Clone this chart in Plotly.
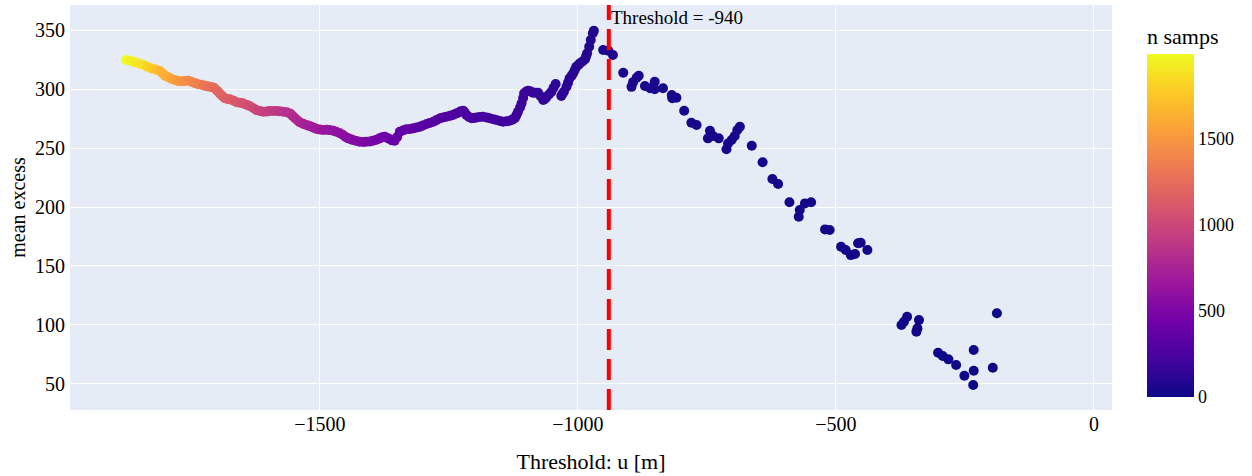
import plotly.graph_objects as go

# Threshold u [m]
threshold = [
    -1875, -1866, -1858, -1850, -1842, -1834, -1826, -1818, -1810, -1805,
    -1800, -1793, -1787, -1781, -1775, -1768, -1762, -1755, -1749, -1742,
    -1736, -1729, -1723, -1718, -1713, -1708, -1704, -1699, -1694, -1689,
    -1684, -1679, -1674, -1667, -1661, -1655, -1649, -1642, -1636, -1629,
    -1623, -1616, -1610, -1603, -1597, -1590, -1584, -1578, -1571, -1564,
    -1558, -1553, -1548, -1543, -1539, -1532, -1526, -1521, -1516, -1511,
    -1506, -1500, -1494, -1487, -1481, -1474, -1468, -1461, -1455, -1450,
    -1445, -1440, -1436, -1429, -1423, -1416, -1410, -1403, -1397, -1390,
    -1384, -1379, -1374, -1369, -1364, -1360, -1355, -1350, -1345, -1338,
    -1332, -1325, -1319, -1312, -1306, -1300, -1293, -1287, -1280, -1274,
    -1267, -1261, -1255, -1248, -1242, -1237, -1232, -1227, -1222, -1219,
    -1216, -1211, -1206, -1201, -1196, -1190, -1184, -1177, -1171, -1164,
    -1158, -1151, -1145, -1138, -1132, -1127, -1122, -1119, -1116, -1112,
    -1109, -1106, -1104, -1100, -1096, -1091, -1087, -1082, -1077, -1072,
    -1067, -1064, -1061, -1056, -1051, -1047, -1043, -1032, -1030, -1027,
    -1022, -1019, -1016, -1012, -1009, -1006, -1003, -999, -996, -991,
    -986, -984, -982, -978, -975, -971, -969,
    -951, -941, -932, -912, -896, -893, -886, -882, -870, -860,
    -851, -851, -835, -818, -817, -809, -794, -780, -770, -744,
    -748, -738, -727, -712, -709, -702, -696, -691, -686, -663,
    -642, -623, -612, -590, -572, -570, -560, -548, -521, -512,
    -490, -481, -471, -463, -457, -452, -439, -373, -368, -362,
    -339, -342, -344, -302, -293, -282, -267, -251, -233, -233,
    -234, -196, -188,
]

# Mean excess
mean_excess = [
    324.8, 323.9, 322.8, 321.8, 320.5, 319.0, 317.7, 316.8, 315.5, 313.5,
    311.5, 310.0, 308.7, 307.8, 307.0, 306.8, 307.0, 307.2, 306.4, 305.2,
    304.2, 303.8, 303.0, 302.6, 302.1, 301.6, 300.8, 298.8, 296.5, 294.3,
    292.3, 291.8, 291.4, 290.3, 288.9, 288.6, 288.0, 286.9, 285.7, 284.0,
    282.3, 281.5, 280.9, 281.0, 281.5, 281.6, 281.5, 281.3, 280.9, 280.4,
    279.5, 277.6, 275.3, 273.5, 271.9, 270.6, 269.6, 268.9, 268.2, 267.2,
    266.2, 265.8, 265.4, 265.5, 265.4, 264.8, 263.9, 262.6, 261.1, 259.4,
    258.3, 257.6, 256.9, 256.0, 255.4, 255.2, 255.4, 255.6, 256.3, 257.2,
    258.3, 259.2, 259.7, 258.6, 257.5, 256.6, 256.3, 259.5, 263.9, 265.2,
    266.0, 266.3, 266.8, 267.5, 268.2, 269.3, 270.5, 271.4, 272.4, 273.8,
    275.3, 276.0, 276.7, 277.4, 278.1, 279.2, 280.1, 281.2, 281.8, 280.2,
    278.1, 276.5, 275.3, 275.6, 276.1, 276.5, 276.7, 276.1, 275.3, 274.6,
    273.9, 273.1, 272.4, 272.8, 273.3, 274.2, 275.3, 278.0, 280.9, 284.5,
    288.0, 292.5, 296.5, 298.0, 298.7, 298.0, 297.0, 297.0, 297.0, 294.0,
    290.8, 291.8, 293.1, 295.5, 297.9, 301.2, 304.4, 294.2, 296.0, 297.9,
    302.1, 305.6, 309.3, 311.4, 313.5, 316.3, 319.1, 320.5, 322.0, 323.6,
    325.4, 328.0, 330.5, 336.1, 341.8, 347.5, 349.7,
    333.3, 332.7, 329.0, 314.0, 302.0, 306.0, 309.8, 311.5, 302.7, 300.8,
    306.4, 300.0, 300.8, 295.0, 292.3, 292.8, 281.8, 271.6, 269.6, 264.8,
    258.3, 260.3, 258.3, 249.0, 254.0, 256.9, 260.3, 265.4, 268.2, 252.0,
    238.0, 223.8, 219.5, 204.0, 191.8, 197.5, 203.1, 204.0, 181.0, 180.5,
    166.3, 163.5, 159.2, 160.1, 169.2, 169.7, 163.5, 99.8, 102.6, 106.9,
    104.0, 97.0, 94.2, 76.3, 73.5, 70.7, 65.9, 56.8, 78.6, 61.0,
    48.9, 63.6, 109.8,
]

# Number of samples above threshold
n_samps = [
    1994, 1960, 1930, 1900, 1870, 1820, 1770, 1725, 1680, 1660,
    1640, 1610, 1580, 1550, 1520, 1490, 1465, 1440, 1420, 1395,
    1370, 1345, 1320, 1300, 1280, 1260, 1240, 1220, 1200, 1188,
    1175, 1162, 1150, 1130, 1110, 1092, 1075, 1058, 1040, 1020,
    1000, 982, 965, 948, 930, 915, 900, 882, 865, 848,
    830, 815, 800, 788, 775, 758, 740, 725, 710, 698,
    685, 670, 655, 642, 630, 618, 605, 592, 580, 572,
    565, 558, 550, 540, 530, 515, 500, 488, 475, 462,
    450, 442, 435, 425, 415, 405, 395, 385, 375, 368,
    360, 352, 345, 338, 330, 324, 318, 312, 305, 298,
    292, 286, 280, 274, 268, 264, 260, 256, 252, 250,
    247, 244, 240, 237, 234, 230, 226, 222, 218, 214,
    210, 206, 203, 200, 196, 193, 190, 188, 186, 184,
    182, 180, 178, 175, 172, 168, 165, 162, 158, 155,
    152, 150, 147, 144, 140, 137, 134, 126, 125, 123,
    119, 117, 114, 112, 110, 108, 105, 103, 100, 97,
    94, 92, 90, 87, 84, 81, 79,
    63, 62, 61, 60, 59, 58, 57, 56, 55, 54,
    53, 52, 51, 50, 49, 48, 47, 46, 45, 44,
    43, 42, 41, 40, 39, 38, 37, 36, 35, 34,
    33, 32, 31, 30, 29, 28, 27, 26, 25, 24,
    23, 22, 21, 20, 19, 18, 17, 16, 15, 14,
    13, 12, 11, 10, 9, 8, 7, 6, 5, 4,
    3, 2, 1,
]

chosen_threshold = -940

FONT = "Liberation Serif, Times New Roman, serif"

fig = go.Figure()
fig.add_trace(go.Scatter(
    x=threshold,
    y=mean_excess,
    mode="markers",
    marker=dict(
        size=10,
        color=n_samps,
        colorscale="Plasma",
        cmin=0,
        cmax=max(n_samps),
        showscale=True,
        colorbar=dict(
            title=dict(text="n samps", font=dict(size=22, family=FONT, color="black")),
            tickfont=dict(size=18, family=FONT, color="black"),
            thickness=47,
            x=1.0336,
            xanchor="left",
            xpad=0,
            lenmode="pixels",
            len=373,
            y=(410 - 397) / 405,
            yanchor="bottom",
            ypad=0,
            outlinewidth=0,
            tickvals=[0, 500, 1000, 1500],
        ),
    ),
    showlegend=False,
))

fig.add_vline(
    x=chosen_threshold,
    line=dict(color="red", width=4, dash="21px,9px"),
    annotation_text=f"Threshold = {chosen_threshold}",
    annotation_position="top right",
    annotation_font=dict(size=19, family=FONT, color="black"),
)

fig.update_layout(
    width=1252,
    height=476,
    template="plotly",
    margin=dict(l=70, r=140, t=5, b=66, autoexpand=False),
    font=dict(family=FONT, size=18, color="black"),
    xaxis=dict(
        title=dict(text="Threshold: u [m]", font=dict(size=22), standoff=19),
        tickfont=dict(size=20),
        range=[-1984, 35],
        tickvals=[-1500, -1000, -500, 0],
        zeroline=False,
    ),
    yaxis=dict(
        title=dict(text="mean excess", font=dict(size=20), standoff=4),
        tickfont=dict(size=20),
        ticklabelstandoff=4,
        range=[27.7, 371.5],
        tickvals=[50, 100, 150, 200, 250, 300, 350],
        zeroline=False,
    ),
)

fig.write_html("out.html")
